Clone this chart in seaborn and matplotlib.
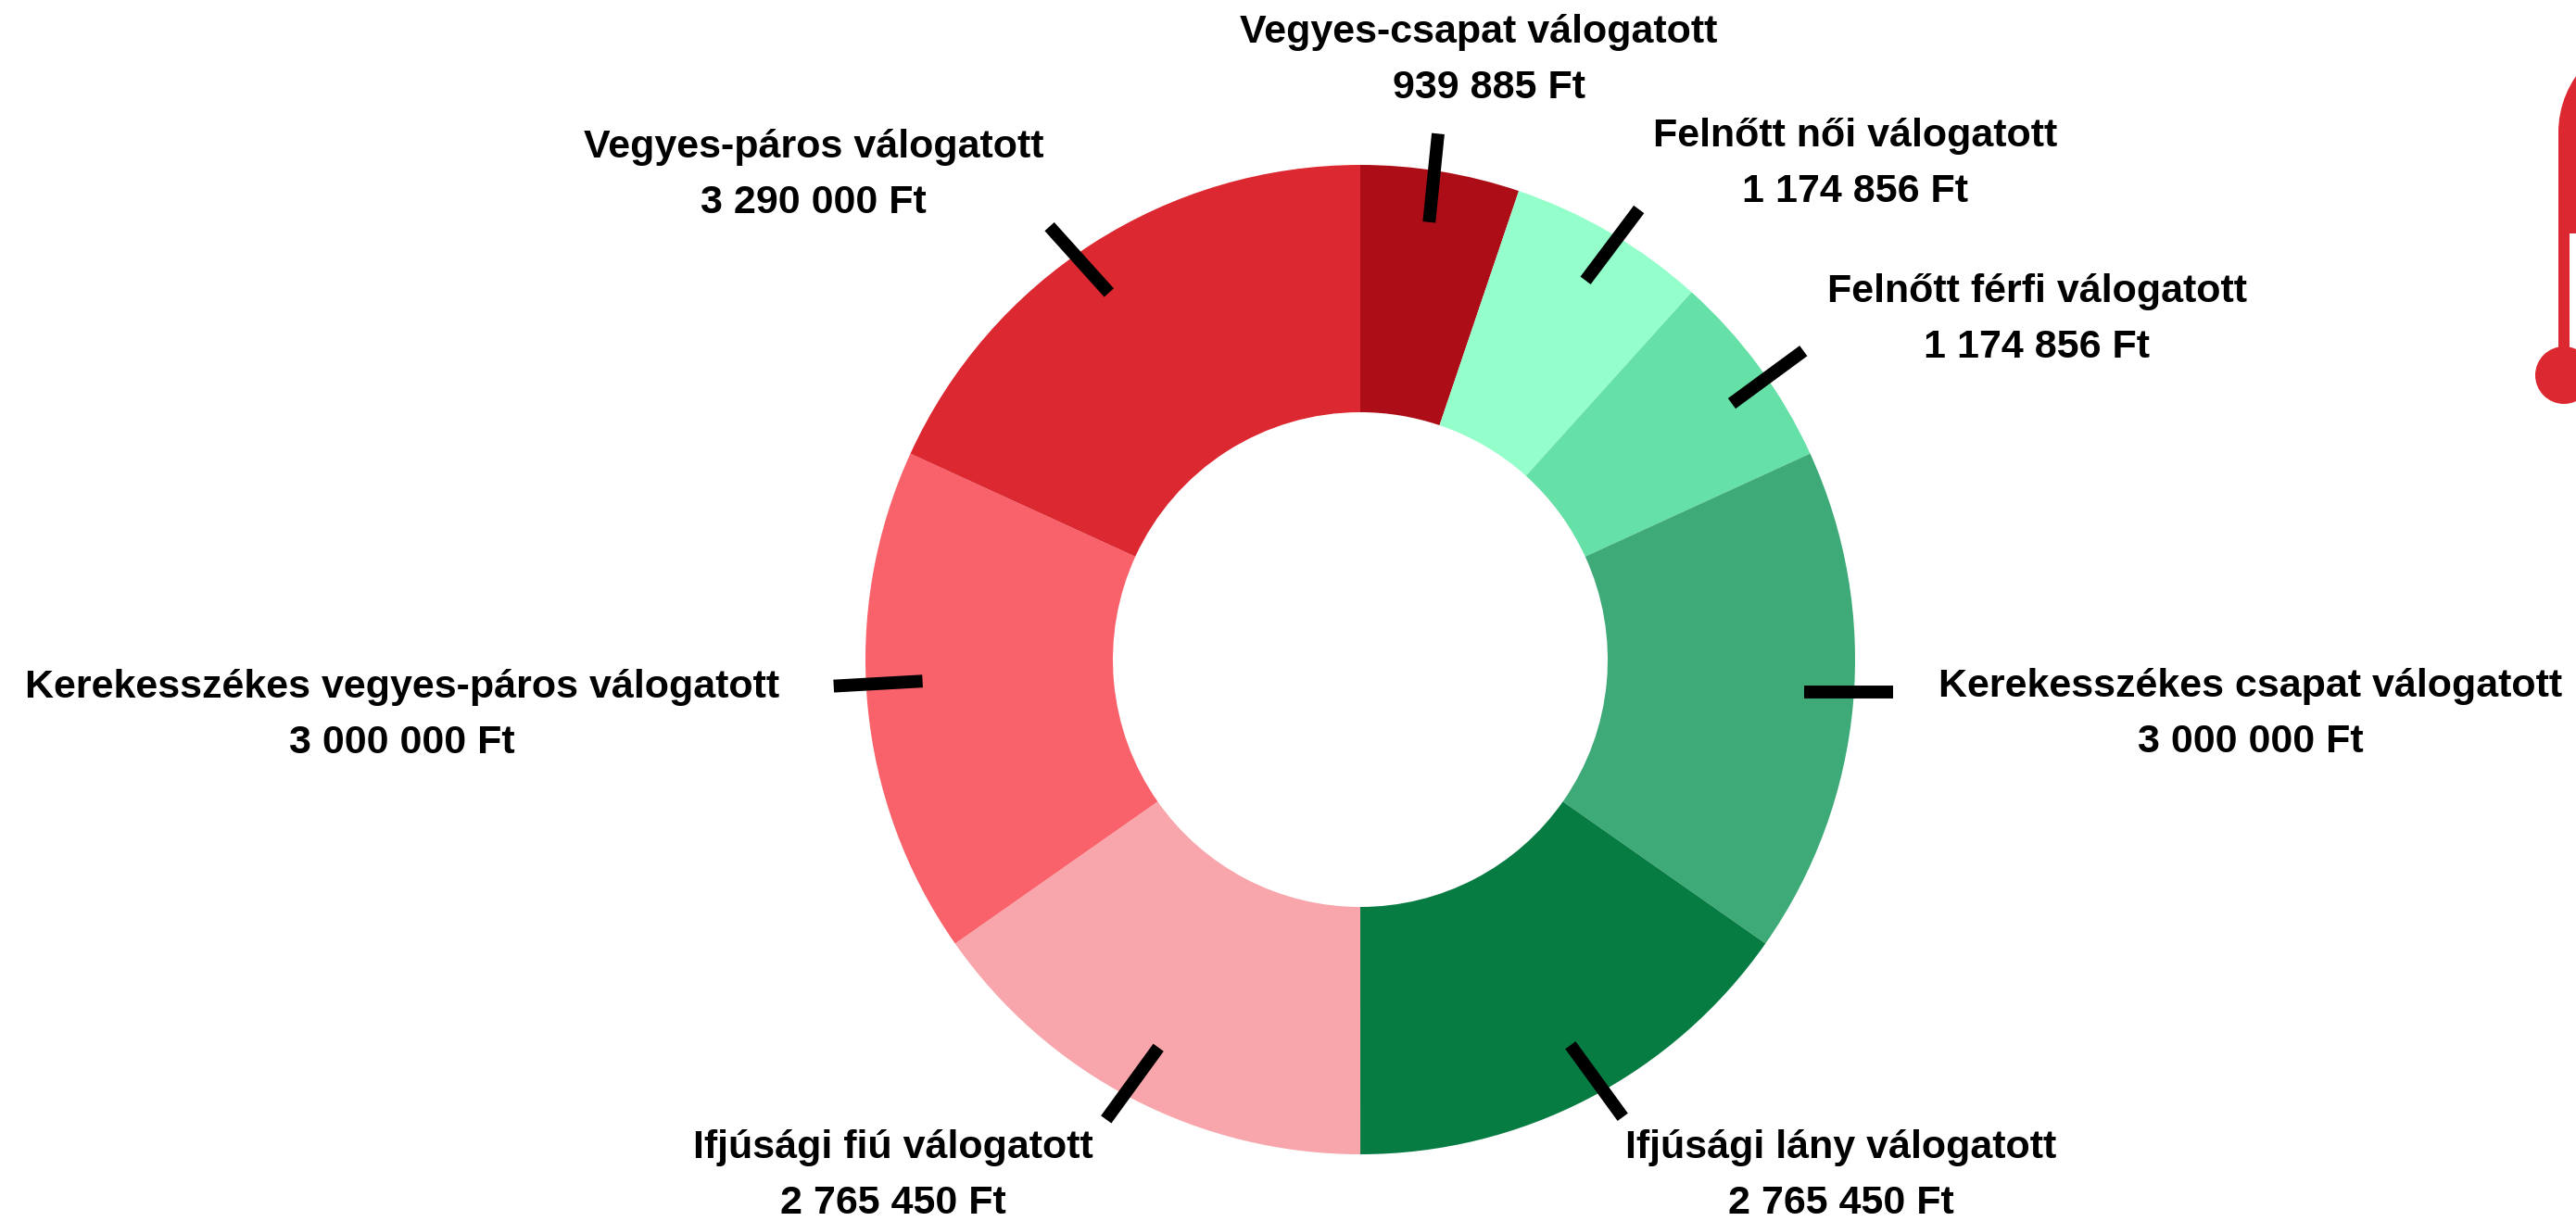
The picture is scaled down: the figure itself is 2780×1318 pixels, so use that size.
import numpy as np
import matplotlib
matplotlib.use("Agg")
import matplotlib.pyplot as plt
from matplotlib.patches import Circle, Rectangle
import seaborn as sns

teams = [
    "Vegyes-csapat válogatott",
    "Felnőtt női válogatott",
    "Felnőtt férfi válogatott",
    "Kerekesszékes csapat válogatott",
    "Ifjúsági lány válogatott",
    "Ifjúsági fiú válogatott",
    "Kerekesszékes vegyes-páros válogatott",
    "Vegyes-páros válogatott",
]
amounts = [939885, 1174856, 1174856, 3000000, 2765450, 2765450, 3000000, 3290000]
colors = ["#AC0D17", "#94FFCB", "#65E0A6", "#3EAA77", "#067C43", "#F8A6AB", "#F9616B", "#DC2830"]

# label centres in pixels, y from the top
label_x = [1596, 2002, 2198, 2429, 1987, 964, 434, 878]
label_y = [35, 147, 315, 741, 1239, 1239, 742, 159]
value_x = [1607, 2002, 2198, 2429, 1987, 964, 434, 878]
# the ticks are not exactly radial: start shift from the slice middle, start radius, heading (clockwise from up)
tick_nudge = [0.4, -0.35, -1.7, 1.0, 1.1, 0.0, -2.4, 1.7]
tick_start = [478, 476, 487, 480, 474, 472, 473, 480]
tick_heading = [5.8, 36.9, 53.7, 90, 144, 216, 266.8, 318]

W, H = 2780, 1318
sns.set_theme(style="white")
plt.rcParams["font.family"] = ["Liberation Sans", "DejaVu Sans"]
red = colors[-1]

fig = plt.figure(figsize=(W / 100, H / 100), dpi=100, facecolor="white")
ax = fig.add_axes([0, 0, 1, 1])

cx, cy, r = 1468, H - 712, 534
wedges, _ = ax.pie(
    amounts,
    colors=sns.color_palette(colors),
    startangle=90,
    counterclock=False,
    center=(cx, cy),
    radius=r,
    wedgeprops={"width": r * 0.5, "linewidth": 0},
)
ax.set_xlim(0, W)
ax.set_ylim(0, H)
ax.set_aspect("equal")
ax.axis("off")

# ticks
for w, nudge, start, heading in zip(wedges, tick_nudge, tick_start, tick_heading):
    a = np.radians((w.theta1 + w.theta2) / 2 + nudge)
    h = np.radians(heading)
    x0, y0 = cx + start * np.cos(a), cy + start * np.sin(a)
    ax.plot(
        [x0, x0 + 96 * np.sin(h)],
        [y0, y0 + 96 * np.cos(h)],
        color="black", lw=10, solid_capstyle="butt", zorder=5,
    )

# labels
for team, amount, lx, vx, ly in zip(teams, amounts, label_x, value_x, label_y):
    ax.text(lx, H - ly, team, ha="center", va="center", fontsize=31, fontweight="bold", color="black")
    value = f"{amount:,} Ft".replace(",", " ")
    ax.text(vx, H - ly - 60, value, ha="center", va="center", fontsize=31, fontweight="bold", color="black")

# thermometer cut off by the right edge
ax.add_patch(Rectangle((2761, H - 252), 40, 109, color=red, lw=0))
ax.add_patch(Circle((2868, H - 143), 107, color=red, lw=0))
ax.add_patch(Rectangle((2761, H - 385), 12, 140, color=red, lw=0))
ax.add_patch(Circle((2767, H - 405), 31, color=red, lw=0))

fig.savefig("out.png", dpi=100, facecolor="white")
